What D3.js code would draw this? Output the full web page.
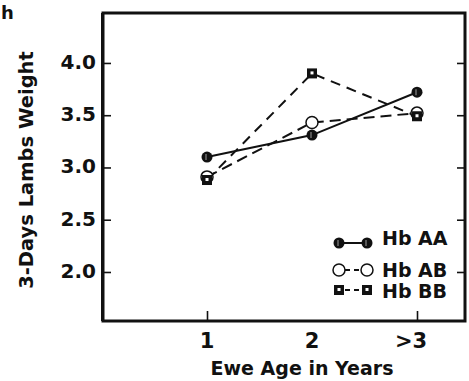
<!DOCTYPE html>
<html><head><meta charset="utf-8">
<script src="https://cdn.jsdelivr.net/npm/d3@7/dist/d3.min.js"></script>
<style>
html,body{margin:0;padding:0;background:#fff;}
svg{display:block;}
text{font-family:"DejaVu Sans",sans-serif;font-weight:bold;fill:#111;}
</style></head>
<body>
<script>
const categories = [1, 2, 3];
const categoryLabels = ["1", "2", ">3"];
const seriesNames = ["Hb AA", "Hb AB", "Hb BB"];
const hbAA = [3.10, 3.31, 3.72];
const hbAB = [2.91, 3.43, 3.52];
const hbBB = [2.88, 3.90, 3.49];
const yTicks = [2.0, 2.5, 3.0, 3.5, 4.0];
const xTicksShown = [1, 3];

const W = 469, H = 381;
const svg = d3.select("body").append("svg").attr("width", W).attr("height", H);

const x = d3.scaleLinear().domain([1, 3]).range([207, 417]);
const y = d3.scaleLinear().domain([1.531, 4.478]).range([321, 13]);

const pL = 103, pR = 465, pT = 13, pB = 321;

// frame
svg.append("rect").attr("x", pL).attr("y", pT).attr("width", pR - pL).attr("height", pB - pT)
  .attr("fill", "none").attr("stroke", "#111").attr("stroke-width", 3);
svg.append("line").attr("x1", pL - 1).attr("x2", pL - 1).attr("y1", pT).attr("y2", pB)
  .attr("stroke", "#111").attr("stroke-width", 2);

// left / right axis ticks (inward)
const yAxisL = d3.axisRight(y).tickValues(yTicks).tickSize(8).tickFormat("");
const gl = svg.append("g").attr("transform", `translate(${pL},0)`).call(yAxisL);
gl.select(".domain").remove();
gl.selectAll("line").attr("stroke", "#111").attr("stroke-width", 1.6);
const yAxisR = d3.axisLeft(y).tickValues(yTicks).tickSize(8).tickFormat("");
const gr = svg.append("g").attr("transform", `translate(${pR},0)`).call(yAxisR);
gr.select(".domain").remove();
gr.selectAll("line").attr("stroke", "#111").attr("stroke-width", 1.6);

// y tick labels
svg.selectAll(".ylab").data(yTicks).enter().append("text")
  .attr("x", 96).attr("y", d => y(d) + 6).attr("text-anchor", "end")
  .attr("font-size", 20).text(d => d.toFixed(1));

// bottom ticks
const xAxis = d3.axisTop(x).tickValues(xTicksShown).tickSize(10).tickFormat("");
const gb = svg.append("g").attr("transform", `translate(0,${pB})`).call(xAxis);
gb.select(".domain").remove();
gb.selectAll("line").attr("stroke", "#111").attr("stroke-width", 1.6);

svg.selectAll(".xlab").data(categories).enter().append("text")
  .attr("x", d => x(d)).attr("dx", (d, i) => i === 2 ? -6 : 0).attr("y", 348).attr("text-anchor", "middle")
  .attr("font-size", 21).text((d, i) => categoryLabels[i]);

// axis titles
svg.append("text").attr("x", 302).attr("y", 375).attr("text-anchor", "middle")
  .attr("font-size", 19).text("Ewe  Age in Years");
svg.append("text").attr("transform", "translate(33,170) rotate(-90)").attr("text-anchor", "middle")
  .attr("font-size", 19.5).text("3-Days Lambs Weight");
svg.append("text").attr("x", 1).attr("y", 19).attr("font-size", 18).text("h");

// series
const line = d3.line().x((d, i) => x(categories[i])).y(d => y(d));
const styles = [
  {data: hbAA, dash: null, marker: "filled"},
  {data: hbAB, dash: "11,6", marker: "open"},
  {data: hbBB, dash: "10,7", marker: "square"}
];

function drawMarker(g, type, cx, cy) {
  if (type === "filled") {
    g.append("circle").attr("cx", cx).attr("cy", cy).attr("r", 5.5).attr("fill", "#111");
    g.append("line").attr("x1", cx - 1).attr("x2", cx - 1).attr("y1", cy - 3).attr("y2", cy + 3)
      .attr("stroke", "#888").attr("stroke-width", 1.2);
  } else if (type === "open") {
    g.append("circle").attr("cx", cx).attr("cy", cy).attr("r", 6).attr("fill", "#fff")
      .attr("stroke", "#111").attr("stroke-width", 1.5);
  } else {
    g.append("rect").attr("x", cx - 5).attr("y", cy - 5).attr("width", 10).attr("height", 10).attr("fill", "#111");
    g.append("rect").attr("x", cx - 1.5).attr("y", cy - 2).attr("width", 3).attr("height", 3).attr("fill", "#fff");
  }
}

styles.forEach(s => {
  svg.append("path").datum(s.data).attr("d", line).attr("fill", "none")
    .attr("stroke", "#111").attr("stroke-width", 2).attr("stroke-dasharray", s.dash);
});
styles.forEach(s => {
  const g = svg.append("g");
  s.data.forEach((v, i) => drawMarker(g, s.marker, x(categories[i]), y(v)));
});

// legend
const legMarkY = [243, 270, 290];
const legTextY = [245, 277, 298];
styles.forEach((s, i) => {
  const g = svg.append("g");
  g.append("line").attr("x1", 339).attr("x2", 367).attr("y1", legMarkY[i]).attr("y2", legMarkY[i])
    .attr("stroke", "#111").attr("stroke-width", 2).attr("stroke-dasharray", s.dash ? "5,4" : null)
    .attr("stroke-dashoffset", s.dash ? -6 : 0);
  drawMarker(g, s.marker, 339, legMarkY[i]);
  drawMarker(g, s.marker, 367, legMarkY[i]);
  g.append("text").attr("x", 382).attr("y", legTextY[i]).attr("font-size", 19).text(seriesNames[i]);
});
</script>
</body></html>
